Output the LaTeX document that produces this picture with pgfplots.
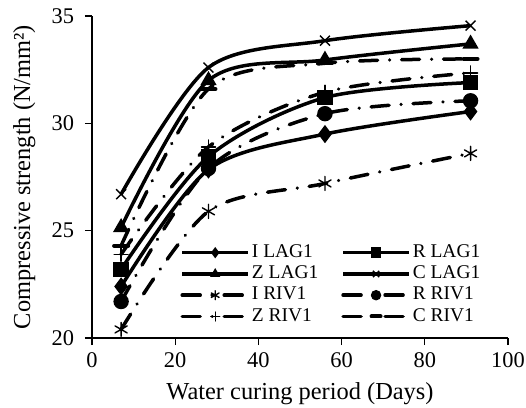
\documentclass[border=0pt]{standalone}
\usepackage{fontspec}
\setmainfont{Liberation Serif}
\usepackage{pgfplots}
\pgfplotsset{compat=1.18}

\begin{document}
\fontsize{23}{26}\selectfont
\begin{tikzpicture}
\begin{axis}[
  scale only axis,
  width=416bp, height=322bp,
  xmin=0, xmax=100, ymin=20, ymax=35,
  xtick={0,20,...,100}, ytick={20,25,30,35},
  axis lines=left,
  axis line style={-, line width=1.3bp},
  tick align=outside,
  major tick length=7bp,
  tick style={line width=1.3bp, black},
  /pgf/number format/assume math mode=true,
  ticklabel style={font=\fontsize{22.5}{24}\selectfont},
  yticklabel style={xshift=-3bp},
  label style={font=\fontsize{24.5}{27}\selectfont},
  xlabel={Water curing period (Days)},
  ylabel={Compressive strength (N/mm²)},
  xlabel style={yshift=1bp},
  ylabel style={yshift=1bp},
  every axis plot/.append style={line width=3.5bp, smooth, black},
  mark options={solid, line width=1.4bp},
  legend columns=2,
  legend cell align=left,
  legend style={draw=none, fill=none, at={(axis cs:20.5,24.55)}, anchor=north west,
    font=\fontsize{19.5}{22}\selectfont, row sep=1bp,
    /tikz/every even column/.append style={column sep=21bp}},
  legend image code/.code={\draw[mark repeat=2,mark phase=2,#1] plot coordinates {(0bp,0bp)(33bp,0bp)(66bp,0bp)};},
  legend image post style={mark size=4.5bp},
  rivstyle/.style={dash pattern=on 18bp off 12bp on 0.01bp off 12bp, line cap=round},
]
\coordinate (ll) at (rel axis cs:0,0);
\coordinate (ur) at (rel axis cs:1,1);
\addplot[mark=diamond*, mark size=8bp] coordinates {(7,22.4) (28,27.85) (56,29.5) (91,30.55)};
\addlegendentry{I LAG1}
\addplot[mark=square*, mark size=7bp] coordinates {(7,23.2) (28,28.45) (56,31.2) (91,31.9)};
\addlegendentry{R LAG1}
\addplot[mark=triangle*, mark size=8bp] coordinates {(7,25.15) (28,32.0) (56,32.95) (91,33.7)};
\addlegendentry{Z LAG1}
\addplot[mark=x, mark size=7bp] coordinates {(7,26.7) (28,32.6) (56,33.85) (91,34.55)};
\addlegendentry{C LAG1}
\addplot[rivstyle, mark=asterisk, mark size=7bp] coordinates {(7,20.4) (28,25.9) (56,27.2) (91,28.6)};
\addlegendentry{I RIV1}
\addplot[rivstyle, mark=*, mark size=7bp] coordinates {(7,21.7) (28,27.9) (56,30.45) (91,31.05)};
\addlegendentry{R RIV1}
\addplot[rivstyle, mark=+, mark size=7bp] coordinates {(7,23.9) (28,28.9) (56,31.45) (91,32.35)};
\addlegendentry{Z RIV1}
\addplot[rivstyle, mark=-, mark size=7bp, mark options={line width=4bp}] coordinates {(7,24.3) (28,31.6) (56,32.8) (91,33.0)};
\addlegendentry{C RIV1}
\end{axis}
\pgfresetboundingbox
\path ([xshift=-92bp,yshift=-70bp]ll) rectangle ([xshift=18bp,yshift=16bp]ur);
\end{tikzpicture}
\end{document}
